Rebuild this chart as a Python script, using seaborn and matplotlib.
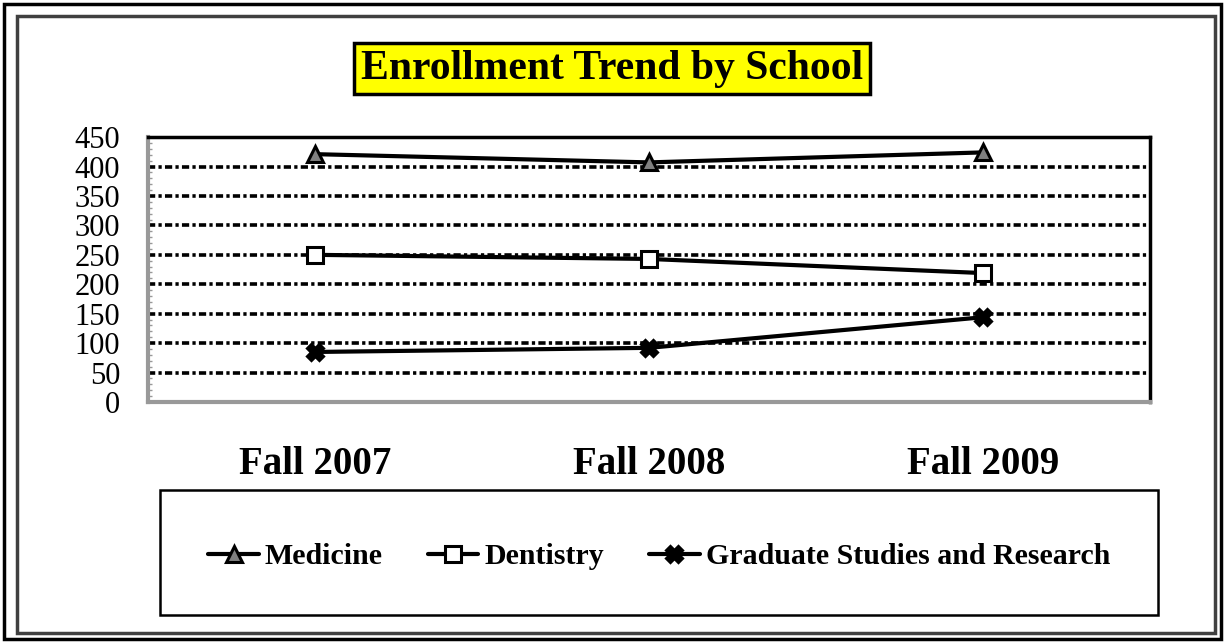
import seaborn as sns
import matplotlib.pyplot as plt
import pandas as pd
from matplotlib.patches import Rectangle
from matplotlib.ticker import MultipleLocator

sns.set_style("white")
plt.rcParams["font.family"] = ["Liberation Serif", "DejaVu Serif"]
plt.rcParams["text.color"] = "black"
plt.rcParams["xtick.labelcolor"] = "black"
plt.rcParams["ytick.labelcolor"] = "black"

# 数据
terms = ["Fall 2007", "Fall 2008", "Fall 2009"]
medicine = [421, 407, 424]
dentistry = [250, 243, 219]
graduate = [85, 92, 144]

fig = plt.figure(figsize=(12.25, 6.43), dpi=100)
ax = fig.add_axes([0.1208, 0.3748, 0.818, 0.412])

# 三条折线
styles = [
    ("Medicine", medicine, "^", "#808080"),
    ("Dentistry", dentistry, "s", "white"),
    ("Graduate Studies and Research", graduate, "X", "black"),
]
for name, vals, mk, fc in styles:
    df = pd.DataFrame({"Term": terms, "Enrollment": vals})
    sns.lineplot(data=df, x="Term", y="Enrollment", ax=ax, color="black",
                 linewidth=3, marker=mk, markersize=11, markerfacecolor=fc,
                 markeredgecolor="black", markeredgewidth=2.2, label=name,
                 zorder=3)

ax.set_xlim(-0.5, 2.5)
ax.set_ylim(0, 450)
ax.yaxis.set_major_locator(MultipleLocator(50))
ax.yaxis.set_minor_locator(MultipleLocator(10))
ax.grid(axis="y", color="black", linewidth=2.6, linestyle=(0, (2, 0.9, 0.9, 0.9)))
ax.grid(axis="x", visible=False)

# 坐标轴样式
for side in ["left", "bottom"]:
    ax.spines[side].set_color("#999999")
    ax.spines[side].set_linewidth(3)
for side in ["top", "right"]:
    ax.spines[side].set_color("black")
    ax.spines[side].set_linewidth(2.5)

ax.tick_params(axis="y", which="major", labelsize=22, pad=20, length=0)
ax.tick_params(axis="y", which="minor", direction="in", length=3,
               color="#999999", width=1, left=True)
ax.tick_params(axis="x", labelsize=28, pad=32, length=0)
for lab in ax.get_xticklabels():
    lab.set_fontweight("bold")
ax.set_xlabel("")
ax.set_ylabel("")

# 标题（黄色方框）
fig.text(0.4996, 0.893, "Enrollment Trend by School", ha="center", va="center",
         fontsize=30, fontweight="bold",
         bbox=dict(boxstyle="square,pad=0.16", facecolor="yellow",
                   edgecolor="black", linewidth=2.5))

# 图例方框
W, H = 1225, 643
fig.patches.append(Rectangle((160 / W, 1 - 615 / H), 998 / W, 125 / H,
                             transform=fig.transFigure, fill=False,
                             edgecolor="black", linewidth=1.8))
ax.legend(loc="center", bbox_to_anchor=(0.538, 1 - 557 / H),
          bbox_transform=fig.transFigure, ncol=3, frameon=False,
          prop={"weight": "bold", "size": 21.5}, handlelength=1.7,
          handletextpad=0.2, columnspacing=1.5, markerscale=1.0)

# 外边框
fig.patches.append(Rectangle((4 / W, 4 / H), 1217 / W, 635 / H,
                             transform=fig.transFigure, fill=False,
                             edgecolor="black", linewidth=2.5))
fig.patches.append(Rectangle((17 / W, 10 / H), 1198 / W, 617 / H,
                             transform=fig.transFigure, fill=False,
                             edgecolor="#404040", linewidth=2.5))

plt.savefig("out.png", dpi=100)
